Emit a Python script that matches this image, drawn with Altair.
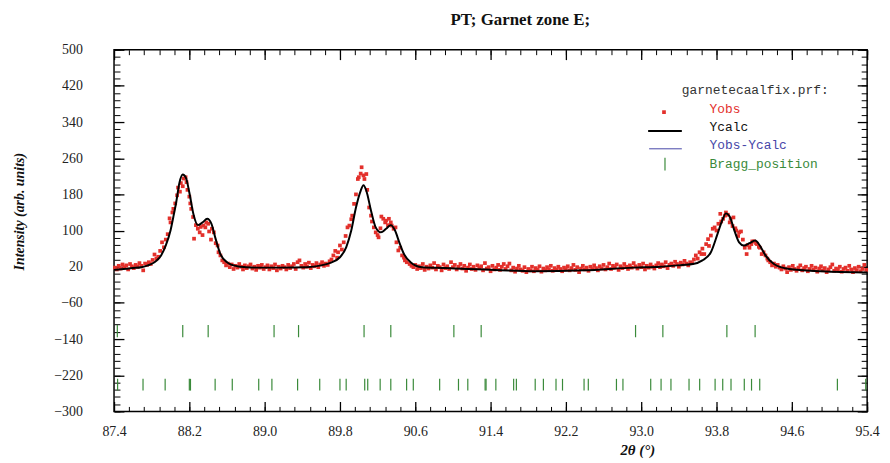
import altair as alt
import pandas as pd

# ---------------- data ----------------
x_ticks = [87.4, 88.2, 89.0, 89.8, 90.6, 91.4, 92.2, 93.0, 93.8, 94.6, 95.4]
y_ticks = [-300, -220, -140, -60, 20, 100, 180, 260, 340, 420, 500]
x_minor = [round(87.4 + 0.16 * i, 2) for i in range(51)]
y_minor = [-300 + 16 * i for i in range(51)]

# Ycalc (black line): (2theta, intensity)
ycalc_points = [
    (87.40, 13), (87.50, 15), (87.60, 17), (87.69, 19), (87.76, 23), (87.83, 30),
    (87.87, 37), (87.90, 45), (87.95, 67), (88.00, 100), (88.03, 130), (88.06, 162),
    (88.095, 206), (88.13, 224), (88.165, 216), (88.20, 184), (88.245, 135), (88.29, 112),
    (88.34, 118), (88.39, 126), (88.435, 115), (88.48, 81), (88.53, 48), (88.60, 30),
    (88.71, 21), (88.80, 19), (88.92, 18), (89.16, 18), (89.445, 19), (89.60, 23),
    (89.69, 28), (89.80, 41), (89.866, 63), (89.92, 100), (89.97, 151), (90.02, 188),
    (90.05, 200), (90.08, 188), (90.13, 144), (90.18, 107), (90.235, 96), (90.29, 104),
    (90.34, 112), (90.385, 100), (90.43, 74), (90.48, 48), (90.55, 30), (90.67, 19),
    (90.92, 17), (91.16, 15), (91.445, 13), (91.87, 10), (92.39, 12), (92.92, 18),
    (93.20, 20), (93.44, 24), (93.55, 26), (93.65, 34), (93.74, 52), (93.81, 92),
    (93.86, 122), (93.90, 138), (93.94, 131), (93.99, 100), (94.04, 74), (94.09, 67),
    (94.15, 72), (94.21, 78), (94.26, 67), (94.32, 45), (94.41, 26), (94.57, 15),
    (94.92, 10), (95.40, 7),
]

# Yobs (red dots), in segments
yobs_left = [
    (87.41, 18), (87.43, 14), (87.45, 22), (87.47, 16), (87.49, 25), (87.51, 19), (87.53, 23),
    (87.55, 14), (87.57, 26), (87.59, 21), (87.61, 17), (87.63, 24), (87.65, 20), (87.67, 28),
    (87.69, 22), (87.71, 12), (87.73, 27), (87.75, 24), (87.77, 30), (87.79, 26), (87.81, 35),
    (87.83, 47), (87.85, 38), (87.87, 42), (87.89, 55),
]
yobs_peak1 = [
    (87.91, 74), (87.93, 63), (87.95, 80), (87.97, 92), (87.99, 127), (88.00, 118), (88.02, 140),
    (88.03, 148), (88.05, 160), (88.07, 178), (88.08, 195), (88.10, 186), (88.11, 205), (88.13, 198),
    (88.14, 215), (88.16, 218), (88.17, 207), (88.18, 190), (88.20, 175), (88.21, 160), (88.22, 148),
    (88.24, 130), (88.25, 82), (88.27, 112), (88.29, 104), (88.31, 96), (88.32, 108), (88.34, 90),
    (88.35, 111), (88.37, 107), (88.38, 118), (88.40, 115), (88.41, 98), (88.43, 80), (88.44, 104),
    (88.46, 96), (88.48, 72), (88.50, 67), (88.51, 52), (88.53, 45), (88.55, 34), (88.57, 30),
    (88.59, 23), (88.61, 27), (88.63, 19), (88.65, 25),
]
yobs_base1 = [
    (88.67, 15), (88.69, 22), (88.71, 18), (88.73, 26), (88.75, 20), (88.77, 14), (88.79, 23),
    (88.81, 17), (88.83, 21), (88.85, 25), (88.87, 16), (88.89, 20), (88.91, 13), (88.93, 22),
    (88.95, 18), (88.97, 24), (88.99, 15), (89.01, 19), (89.03, 23), (89.05, 14), (89.07, 21),
    (89.09, 17), (89.11, 25), (89.13, 12), (89.15, 20), (89.17, 16), (89.19, 22), (89.21, 19),
    (89.23, 14), (89.25, 24), (89.27, 17), (89.29, 21), (89.31, 26), (89.33, 15), (89.35, 30),
    (89.37, 34), (89.39, 22), (89.41, 18), (89.43, 26), (89.45, 20), (89.47, 29), (89.49, 17),
    (89.51, 24), (89.53, 21), (89.55, 28), (89.57, 19), (89.59, 25), (89.61, 30), (89.63, 22),
    (89.65, 27), (89.67, 24), (89.69, 32),
]
yobs_peak2 = [
    (89.71, 36), (89.73, 45), (89.75, 55), (89.77, 40), (89.78, 52), (89.80, 67), (89.82, 58),
    (89.84, 74), (89.86, 88), (89.88, 107), (89.90, 111), (89.92, 125), (89.93, 133), (89.95, 159),
    (89.97, 180), (89.99, 214), (90.00, 218), (90.02, 226), (90.03, 240), (90.05, 222), (90.06, 214),
    (90.08, 225), (90.09, 190), (90.11, 151), (90.13, 133), (90.14, 120), (90.16, 107), (90.18, 96),
    (90.20, 90), (90.21, 85), (90.23, 105), (90.24, 131), (90.26, 126), (90.28, 118), (90.29, 122),
    (90.31, 112), (90.32, 126), (90.34, 118), (90.35, 111), (90.37, 104), (90.39, 107), (90.40, 74),
    (90.42, 56), (90.44, 62), (90.46, 45), (90.48, 40), (90.49, 34), (90.51, 30), (90.54, 26),
    (90.56, 22), (90.58, 19),
]
yobs_base2 = [
    (90.60, 24), (90.62, 15), (90.64, 21), (90.66, 17), (90.68, 26), (90.70, 13), (90.72, 20),
    (90.74, 16), (90.76, 23), (90.78, 18), (90.80, 28), (90.82, 14), (90.84, 22), (90.86, 19),
    (90.88, 12), (90.90, 25), (90.92, 17), (90.94, 21), (90.96, 15), (90.98, 30), (91.00, 19),
    (91.02, 24), (91.04, 14), (91.06, 20), (91.08, 26), (91.10, 16), (91.12, 22), (91.14, 11),
    (91.16, 18), (91.18, 25), (91.20, 15), (91.22, 20), (91.24, 13), (91.26, 23), (91.28, 17),
    (91.30, 21), (91.32, 12), (91.34, 28), (91.36, 16), (91.38, 19), (91.40, 10), (91.42, 22),
    (91.44, 14), (91.46, 18), (91.48, 24), (91.50, 13), (91.52, 20), (91.54, 26), (91.56, 15),
    (91.58, 21), (91.60, 27), (91.62, 12), (91.64, 18), (91.66, 9), (91.68, 16), (91.70, 22),
    (91.72, 14), (91.74, 11), (91.76, 19), (91.78, 8), (91.80, 15), (91.82, 12), (91.84, 20),
    (91.86, 10), (91.88, 17), (91.90, 13), (91.92, 21), (91.94, 9), (91.96, 16), (91.98, 12),
    (92.00, 19), (92.02, 14), (92.04, 22), (92.06, 11), (92.08, 17), (92.10, 13), (92.12, 20),
    (92.14, 15), (92.16, 10), (92.18, 18), (92.20, 14), (92.22, 21), (92.24, 12), (92.26, 17),
    (92.28, 24), (92.30, 13), (92.32, 19), (92.34, 8), (92.36, 16), (92.38, 22), (92.40, 14),
    (92.42, 18), (92.44, 11), (92.46, 20), (92.48, 15), (92.50, 23), (92.52, 17), (92.54, 12),
    (92.56, 21), (92.58, 16), (92.60, 24), (92.62, 14), (92.64, 19), (92.66, 27), (92.68, 15),
    (92.70, 22), (92.72, 18), (92.74, 25), (92.76, 13), (92.78, 21), (92.80, 17), (92.82, 26),
    (92.84, 20), (92.86, 15), (92.88, 23), (92.90, 18), (92.92, 28), (92.94, 21), (92.96, 16),
    (92.98, 24), (93.00, 19), (93.02, 27), (93.04, 14), (93.06, 22), (93.08, 18), (93.10, 25),
    (93.12, 20), (93.14, 16), (93.16, 23), (93.18, 28), (93.20, 19), (93.22, 25), (93.24, 21),
    (93.26, 30), (93.28, 17), (93.30, 24), (93.32, 27), (93.34, 22), (93.36, 31), (93.38, 26),
    (93.40, 20), (93.42, 29), (93.44, 25), (93.46, 33), (93.48, 27), (93.50, 23), (93.52, 30),
    (93.54, 28),
]
yobs_peak3 = [
    (93.56, 36), (93.58, 45), (93.60, 38), (93.62, 52), (93.64, 48), (93.65, 60), (93.67, 48),
    (93.69, 70), (93.71, 81), (93.72, 66), (93.74, 89), (93.76, 104), (93.78, 107), (93.80, 100),
    (93.82, 115), (93.84, 137), (93.85, 120), (93.87, 126), (93.89, 133), (93.90, 140), (93.92, 135),
    (93.94, 118), (93.95, 126), (93.97, 110), (93.98, 129), (94.00, 105), (94.01, 100), (94.03, 88),
    (94.04, 96), (94.06, 98), (94.08, 80), (94.10, 62), (94.12, 48), (94.13, 68), (94.15, 62),
    (94.17, 70), (94.18, 76), (94.20, 76), (94.22, 72), (94.23, 70), (94.25, 64), (94.26, 62),
    (94.28, 48), (94.30, 52), (94.32, 45), (94.34, 38), (94.35, 34), (94.37, 30), (94.39, 23),
    (94.41, 27), (94.43, 20), (94.45, 24),
]
yobs_right = [
    (94.47, 18), (94.49, 14), (94.51, 21), (94.53, 16), (94.55, 8), (94.57, 19), (94.59, 13),
    (94.61, 22), (94.63, 15), (94.65, 11), (94.67, 18), (94.69, 23), (94.71, 12), (94.73, 17),
    (94.75, 20), (94.77, 10), (94.79, 15), (94.81, 22), (94.83, 13), (94.85, 18), (94.87, 9),
    (94.89, 16), (94.91, 21), (94.93, 12), (94.95, 17), (94.97, 8), (94.99, 14), (95.01, 19),
    (95.03, 25), (95.05, 11), (95.07, 16), (95.09, 13), (95.11, 20), (95.13, 9), (95.15, 15),
    (95.17, 18), (95.19, 11), (95.21, 22), (95.23, 14), (95.25, 8), (95.27, 17), (95.29, 12),
    (95.31, 20), (95.33, 10), (95.35, 15), (95.37, 24), (95.39, 13),
]

# Bragg positions (two phases)
bragg_row1 = [87.435, 88.13, 88.40, 89.10, 89.36, 90.056, 90.34, 91.01, 91.30,
              92.94, 93.23, 93.91, 94.21]
bragg_row2 = [87.438, 87.708, 87.943, 88.200, 88.212, 88.474, 88.656, 88.937, 89.077,
              89.350, 89.585, 89.800, 89.866, 90.063, 90.095, 90.227, 90.340, 90.508,
              90.579, 90.859, 91.059, 91.158, 91.342, 91.352, 91.456, 91.645, 91.674,
              91.874, 91.961, 92.095, 92.164, 92.393, 92.438, 92.737, 92.806, 93.101,
              93.211, 93.316, 93.508, 93.621, 93.785, 93.866, 93.954, 94.095, 94.172,
              94.259, 95.084, 95.385]
bragg_row1_span = (-109, -136)
bragg_row2_span = (-228, -254)

# ---------------- frames ----------------
obs_df = pd.DataFrame(
    yobs_left + yobs_peak1 + yobs_base1 + yobs_peak2 + yobs_base2 + yobs_peak3 + yobs_right,
    columns=["tt", "I"])
calc_df = pd.DataFrame(ycalc_points, columns=["tt", "I"])
b1_df = pd.DataFrame({"tt": bragg_row1, "y1": bragg_row1_span[0], "y2": bragg_row1_span[1]})
b2_df = pd.DataFrame({"tt": bragg_row2, "y1": bragg_row2_span[0], "y2": bragg_row2_span[1]})
one = pd.DataFrame({"k": [0]})

SERIF = "Liberation Serif"
MONO = "Liberation Mono"
RED = "#e3302b"
GREEN = "#3a8a3a"
BLUE = "#4646a8"

xs = alt.Scale(domain=[87.4, 95.4], nice=False, zero=False)
ys = alt.Scale(domain=[-300, 500], nice=False, zero=False)


def tick_axis(orient, values, size, width):
    return alt.Axis(orient=orient, values=values, ticks=True, tickSize=size, offset=-size,
                    labels=False, domain=False, grid=False, tickColor="black",
                    tickWidth=width)


label_x = alt.Axis(orient="bottom", values=x_ticks, format=".1f", ticks=False, tickSize=0,
                   domain=False, grid=False, labelPadding=13, labelFont=SERIF,
                   labelFontSize=14, labelColor="#222", labelFlush=False, labelOverlap=False,
                   titleFont=SERIF, titleFontSize=15, titleFontStyle="italic",
                   titleFontWeight="bold", titleColor="#111", titleX=528, titleY=38,
                   titleBaseline="middle", titleAlign="center")
label_y = alt.Axis(orient="left", values=y_ticks, ticks=False, tickSize=0, domain=False,
                   grid=False, labelPadding=32, labelFont=SERIF, labelFontSize=14,
                   labelColor="#222", labelFlush=False, labelOverlap=False,
                   titleFont=SERIF, titleFontSize=14, titleFontStyle="italic",
                   titleFontWeight="bold", titleColor="#111", titleX=-95, titleY=163,
                   titleBaseline="middle", titleAlign="center")

obs = alt.Chart(obs_df).mark_square(size=14, color=RED, opacity=1).encode(
    x=alt.X("tt:Q", scale=xs, axis=label_x, title="2θ (°)"),
    y=alt.Y("I:Q", scale=ys, axis=label_y, title="Intensity (arb. units)"),
)
calc = alt.Chart(calc_df).mark_line(color="black", strokeWidth=2, interpolate="monotone").encode(
    x=alt.X("tt:Q", scale=xs, axis=tick_axis("bottom", x_ticks, 10, 1.3), title=None),
    y=alt.Y("I:Q", scale=ys, axis=tick_axis("left", y_ticks, 10, 1.3), title=None),
)
b1 = alt.Chart(b1_df).mark_rule(color=GREEN, strokeWidth=1.2).encode(
    x=alt.X("tt:Q", scale=xs, axis=tick_axis("bottom", x_minor, 5, 1), title=None),
    y=alt.Y("y1:Q", scale=ys, axis=tick_axis("left", y_minor, 6, 1), title=None),
    y2="y2:Q",
)
b2 = alt.Chart(b2_df).mark_rule(color=GREEN, strokeWidth=1.2).encode(
    x=alt.X("tt:Q", scale=xs, axis=tick_axis("top", x_ticks, 10, 1.3), title=None),
    y=alt.Y("y1:Q", scale=ys, axis=tick_axis("right", y_ticks, 10, 1.3), title=None),
    y2="y2:Q",
)
ghost = alt.Chart(calc_df).mark_line(strokeOpacity=0).encode(
    x=alt.X("tt:Q", scale=xs, axis=tick_axis("top", x_minor, 5, 1), title=None),
    y=alt.Y("I:Q", scale=ys, axis=tick_axis("right", y_minor, 6, 1), title=None),
)


def label(text, x, y, color, size=13):
    return alt.Chart(one).mark_text(text=text, font=MONO, fontSize=size, align="left",
                                    baseline="middle", color=color).encode(
        x=alt.value(x), y=alt.value(y))


leg = [
    label("garnetecaalfix.prf:", 573, 41, "#333"),
    label("Yobs", 601, 60, RED),
    label("Ycalc", 601, 78, "#111"),
    label("Yobs-Ycalc", 601, 96, BLUE),
    label("Bragg_position", 601, 115, GREEN),
    alt.Chart(one).mark_square(size=14, color=RED, opacity=1).encode(
        x=alt.value(555), y=alt.value(63)),
    alt.Chart(one).mark_rule(color="black", strokeWidth=2).encode(
        x=alt.value(539), x2=alt.value(573), y=alt.value(82)),
    alt.Chart(one).mark_rule(color=BLUE, strokeWidth=1).encode(
        x=alt.value(540), x2=alt.value(573), y=alt.value(100)),
    alt.Chart(one).mark_rule(color=GREEN, strokeWidth=1.2).encode(
        x=alt.value(556), y=alt.value(109), y2=alt.value(122)),
]

chart = alt.layer(obs, calc, b1, b2, ghost, *leg).resolve_axis(
    x="independent", y="independent"
).properties(
    width=760, height=365,
    padding={"left": 107, "top": 40, "right": 15, "bottom": 52},
    autosize=alt.AutoSizeParams(type="none"),
    title=alt.TitleParams(text="PT; Garnet zone E;", font=SERIF, fontSize=17,
                          fontWeight="bold", color="#111", anchor="middle", dx=30,
                          offset=14),
).configure_view(stroke="black", strokeWidth=1.5)

chart.save("out.html", embed_options={"renderer": "svg", "actions": False})
